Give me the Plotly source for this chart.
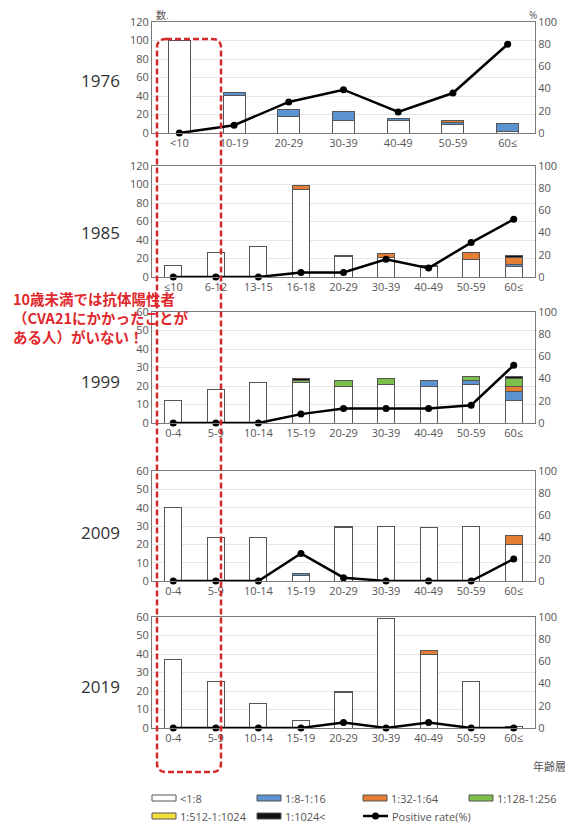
import plotly.graph_objects as go

# page body has an 8px margin; size the figure so its right edge meets the window edge
OFF = 8
W, H = 573 - OFF, 824 - OFF

# ---------------- data ----------------
cats_1976 = ["<10", "10-19", "20-29", "30-39", "40-49", "50-59", "60≤"]
cats_1985 = ["≤10", "6-12", "13-15", "16-18", "20-29", "30-39", "40-49", "50-59", "60≤"]
cats_late = ["0-4", "5-9", "10-14", "15-19", "20-29", "30-39", "40-49", "50-59", "60≤"]

level_names = ["<1:8", "1:8-1:16", "1:32-1:64", "1:128-1:256", "1:512-1:1024", "1:1024<"]

# 1976
n1976_lt8 = [100, 41, 18, 14, 13, 9, 2]
n1976_8_16 = [0, 3, 7, 9, 3, 2, 8]
n1976_32_64 = [0, 0, 0, 0, 0, 3, 0]
n1976_128_256 = [0, 0, 0, 0, 0, 0, 0]
n1976_512_1024 = [0, 0, 0, 0, 0, 0, 0]
n1976_gt1024 = [0, 0, 0, 0, 0, 0, 0]
rate_1976 = [0, 7, 28, 39, 19, 36, 80]

# 1985
n1985_lt8 = [12, 27, 33, 95, 22, 21, 11, 19, 11]
n1985_8_16 = [0, 0, 0, 0, 1, 0, 0, 0, 3]
n1985_32_64 = [0, 0, 0, 4, 0, 4, 1, 8, 7]
n1985_128_256 = [0, 0, 0, 0, 0, 0, 0, 0, 0]
n1985_512_1024 = [0, 0, 0, 0, 0, 0, 0, 0, 0]
n1985_gt1024 = [0, 0, 0, 0, 0, 0, 0, 0, 2]
rate_1985 = [0, 0, 0, 4, 4, 16, 8, 31, 52]

# 1999
n1999_lt8 = [12, 18, 22, 22, 20, 21, 20, 21, 12]
n1999_8_16 = [0, 0, 0, 0, 0, 0, 3, 2, 5]
n1999_32_64 = [0, 0, 0, 0, 0, 0, 0, 0, 3]
n1999_128_256 = [0, 0, 0, 1, 3, 3, 0, 2, 4]
n1999_512_1024 = [0, 0, 0, 0, 0, 0, 0, 0, 0]
n1999_gt1024 = [0, 0, 0, 1, 0, 0, 0, 0, 1]
rate_1999 = [0, 0, 0, 8, 13, 13, 13, 16, 52]

# 2009
n2009_lt8 = [40, 24, 24, 3, 29, 30, 29, 30, 20]
n2009_8_16 = [0, 0, 0, 1, 0, 0, 0, 0, 0]
n2009_32_64 = [0, 0, 0, 0, 1, 0, 0, 0, 5]
n2009_128_256 = [0, 0, 0, 0, 0, 0, 0, 0, 0]
n2009_512_1024 = [0, 0, 0, 0, 0, 0, 0, 0, 0]
n2009_gt1024 = [0, 0, 0, 0, 0, 0, 0, 0, 0]
rate_2009 = [0, 0, 0, 25, 3, 0, 0, 0, 20]

# 2019
n2019_lt8 = [37, 25, 13, 4, 19, 59, 40, 25, 1]
n2019_8_16 = [0, 0, 0, 0, 0, 0, 0, 0, 0]
n2019_32_64 = [0, 0, 0, 0, 1, 0, 2, 0, 0]
n2019_128_256 = [0, 0, 0, 0, 0, 0, 0, 0, 0]
n2019_512_1024 = [0, 0, 0, 0, 0, 0, 0, 0, 0]
n2019_gt1024 = [0, 0, 0, 0, 0, 0, 0, 0, 0]
rate_2019 = [0, 0, 0, 0, 5, 0, 5, 0, 0]

years = ["1976", "1985", "1999", "2009", "2019"]

# ---------------- styling ----------------
level_colors = ["#ffffff", "#5b93d0", "#e57d34", "#7cbf4a", "#f2e03a", "#111111"]
outline = "#555555"
frame = "#7a7a7a"
grid = "#e6e6e6"
tickcol = "#555555"
FONT = "Open Sans"

panels = [
    dict(cats=cats_1976, segs=[n1976_lt8, n1976_8_16, n1976_32_64, n1976_128_256, n1976_512_1024, n1976_gt1024],
         rate=rate_1976, ymax=120, dtick=20, top=22, bot=133, yc=80),
    dict(cats=cats_1985, segs=[n1985_lt8, n1985_8_16, n1985_32_64, n1985_128_256, n1985_512_1024, n1985_gt1024],
         rate=rate_1985, ymax=120, dtick=20, top=166, bot=277, yc=232),
    dict(cats=cats_late, segs=[n1999_lt8, n1999_8_16, n1999_32_64, n1999_128_256, n1999_512_1024, n1999_gt1024],
         rate=rate_1999, ymax=60, dtick=10, top=312, bot=423, yc=382),
    dict(cats=cats_late, segs=[n2009_lt8, n2009_8_16, n2009_32_64, n2009_128_256, n2009_512_1024, n2009_gt1024],
         rate=rate_2009, ymax=60, dtick=10, top=471, bot=581, yc=532),
    dict(cats=cats_late, segs=[n2019_lt8, n2019_8_16, n2019_32_64, n2019_128_256, n2019_512_1024, n2019_gt1024],
         rate=rate_2019, ymax=60, dtick=10, top=617, bot=728, yc=686),
]

X0, X1 = 152, 535

def px(x):
    return (x - OFF) / W

def py(y):
    return 1 - (y - OFF) / H

fig = go.Figure()
layout = {}
annotations = []
shapes = []

for i, p in enumerate(panels, start=1):
    xa = f"x{i}"
    yl = f"y{i}"
    yr = f"y{i + 5}"
    for vals, col in zip(p["segs"], level_colors):
        fig.add_trace(go.Bar(
            x=p["cats"], y=[v if v else None for v in vals],
            xaxis=xa, yaxis=yl, width=0.4,
            marker=dict(color=col, line=dict(color=outline, width=1)),
            showlegend=False, hoverinfo="skip",
        ))
    fig.add_trace(go.Scatter(
        x=p["cats"], y=p["rate"], xaxis=xa, yaxis=yr,
        mode="lines+markers", cliponaxis=False,
        line=dict(color="black", width=2.5),
        marker=dict(color="black", size=7),
        showlegend=False,
    ))
    xkey = "xaxis" if i == 1 else f"xaxis{i}"
    ylkey = "yaxis" if i == 1 else f"yaxis{i}"
    yrkey = f"yaxis{i + 5}"
    layout[xkey] = dict(
        domain=[px(X0), px(X1)], anchor=yl, type="category",
        range=[-0.5, len(p["cats"]) - 0.5], automargin=False,
        showline=True, linecolor=frame, linewidth=1, mirror=True,
        showgrid=False, ticks="", tickfont=dict(family=FONT, size=11, color=tickcol),
        fixedrange=True,
    )
    layout[ylkey] = dict(
        domain=[py(p["bot"]), py(p["top"])], anchor=xa, automargin=False,
        range=[0, p["ymax"]], dtick=p["dtick"],
        showline=True, linecolor=frame, linewidth=1,
        showgrid=True, gridcolor=grid, gridwidth=1, zeroline=False,
        ticks="", tickfont=dict(family=FONT, size=11, color=tickcol),
        fixedrange=True,
    )
    layout[yrkey] = dict(
        overlaying=yl, side="right", anchor=xa, automargin=False,
        range=[0, 100], dtick=20,
        showline=True, linecolor=frame, linewidth=1,
        showgrid=False, zeroline=False, ticks="",
        tickfont=dict(family=FONT, size=11, color=tickcol),
        fixedrange=True,
    )
    annotations.append(dict(
        x=px(100), y=py(p["yc"]), xref="paper", yref="paper",
        text=years[i - 1], showarrow=False, xanchor="center", yanchor="middle",
        font=dict(family=FONT, size=17, color="#333333"),
    ))

# axis unit labels
annotations.append(dict(x=px(154), y=py(15), xref="paper", yref="paper", text="数.",
                        showarrow=False, xanchor="left", yanchor="middle",
                        font=dict(family="Noto Sans CJK JP", size=10, color=tickcol)))
annotations.append(dict(x=px(533), y=py(15), xref="paper", yref="paper", text="%",
                        showarrow=False, xanchor="center", yanchor="middle",
                        font=dict(family=FONT, size=10, color=tickcol)))
annotations.append(dict(x=px(568), y=py(766), xref="paper", yref="paper", text="年齢層",
                        showarrow=False, xanchor="right", yanchor="middle",
                        font=dict(family="Noto Sans CJK JP", size=11, color=tickcol)))

# red callout text
red = "#e0282c"
for txt, yy in [("10歳未満では抗体陽性者", 298), ("（CVA21にかかったことが", 317), ("ある人）がいない！", 336)]:
    annotations.append(dict(x=px(11), y=py(yy), xref="paper", yref="paper", text=f"<b>{txt}</b>",
                            showarrow=False, xanchor="left", yanchor="middle",
                            font=dict(family="Noto Sans CJK JP", size=14.5, color=red)))

# red dashed rounded rectangle
rx0, rx1, ry0, ry1, r = 157, 221, 39, 772, 9
path = (f"M {px(rx0 + r)},{py(ry0)} L {px(rx1 - r)},{py(ry0)} "
        f"Q {px(rx1)},{py(ry0)} {px(rx1)},{py(ry0 + r)} "
        f"L {px(rx1)},{py(ry1 - r)} Q {px(rx1)},{py(ry1)} {px(rx1 - r)},{py(ry1)} "
        f"L {px(rx0 + r)},{py(ry1)} Q {px(rx0)},{py(ry1)} {px(rx0)},{py(ry1 - r)} "
        f"L {px(rx0)},{py(ry0 + r)} Q {px(rx0)},{py(ry0)} {px(rx0 + r)},{py(ry0)} Z")
shapes.append(dict(type="path", path=path, xref="paper", yref="paper",
                   line=dict(color="#d42a2a", width=2.5, dash="6px,3px"), fillcolor="rgba(0,0,0,0)"))

# legend (manual)
leg_items = [
    (level_names[0], level_colors[0], 152, 798),
    (level_names[1], level_colors[1], 257, 798),
    (level_names[2], level_colors[2], 363, 798),
    (level_names[3], level_colors[3], 469, 798),
    (level_names[4], level_colors[4], 152, 816),
    (level_names[5], level_colors[5], 257, 816),
]
for name, col, lx, ly in leg_items:
    shapes.append(dict(type="rect", xref="paper", yref="paper",
                       x0=px(lx), x1=px(lx + 24), y0=py(ly + 3), y1=py(ly - 3),
                       fillcolor=col, line=dict(color=outline, width=1)))
    annotations.append(dict(x=px(lx + 26), y=py(ly), xref="paper", yref="paper", text=name,
                            showarrow=False, xanchor="left", yanchor="middle",
                            font=dict(family=FONT, size=11, color=tickcol)))
# line legend item
shapes.append(dict(type="line", xref="paper", yref="paper", x0=px(363), x1=px(388),
                   y0=py(816), y1=py(816), line=dict(color="black", width=2.5)))
shapes.append(dict(type="circle", xref="paper", yref="paper", x0=px(372), x1=px(379),
                   y0=py(819.5), y1=py(812.5), fillcolor="black", line=dict(color="black", width=0)))
annotations.append(dict(x=px(390), y=py(816), xref="paper", yref="paper", text="Positive rate(%)",
                        showarrow=False, xanchor="left", yanchor="middle",
                        font=dict(family=FONT, size=11, color=tickcol)))

fig.update_layout(
    width=W, height=H,
    margin=dict(l=0, r=0, t=0, b=0, autoexpand=False),
    paper_bgcolor="white", plot_bgcolor="white",
    barmode="stack",
    showlegend=False,
    annotations=annotations,
    shapes=shapes,
    font=dict(family=FONT),
    **layout,
)

fig.write_html("out.html")
